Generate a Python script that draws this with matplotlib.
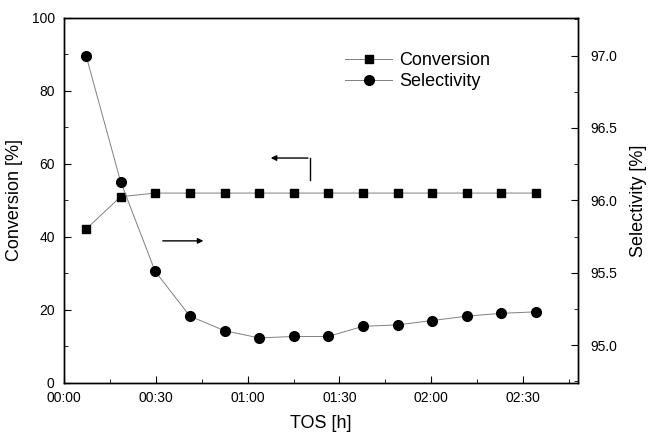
import matplotlib.pyplot as plt
from matplotlib.ticker import MultipleLocator, FuncFormatter

plt.rcParams['font.family'] = ['Liberation Sans', 'DejaVu Sans']

# time on stream in minutes
tos_min = [7.1, 18.4, 29.7, 41.1, 52.4, 63.7, 75.0, 86.3, 97.7, 109.0, 120.3, 131.6, 143.0, 154.3]
conversion = [42.1, 51.0, 52.0, 52.0, 52.0, 52.0, 52.0, 52.0, 52.0, 52.0, 52.0, 52.0, 52.0, 52.0]
selectivity = [97.00, 96.13, 95.51, 95.20, 95.10, 95.05, 95.06, 95.06, 95.13, 95.14, 95.17, 95.20, 95.22, 95.23]


def hhmm(x, pos):
    x = int(round(x))
    return f"{x // 60:02d}:{x % 60:02d}"


fig = plt.figure(figsize=(6.5, 4.37), dpi=100)
ax1 = fig.add_axes([0.099, 0.124, 0.79, 0.835])
ax2 = ax1.twinx()

l1, = ax1.plot(tos_min, conversion, color='#808080', lw=0.7, marker='s',
               ms=6, mfc='black', mec='black', label='Conversion')
l2, = ax2.plot(tos_min, selectivity, color='#808080', lw=0.7, marker='o',
               ms=7, mfc='black', mec='black', label='Selectivity')

ax1.set_xlim(0, 168)
ax1.set_ylim(0, 100)
ax2.set_ylim(94.74, 97.26)

ax1.xaxis.set_major_locator(MultipleLocator(30))
ax1.xaxis.set_minor_locator(MultipleLocator(15))
ax1.xaxis.set_major_formatter(FuncFormatter(hhmm))
ax1.yaxis.set_major_locator(MultipleLocator(20))
ax1.yaxis.set_minor_locator(MultipleLocator(10))
ax2.yaxis.set_major_locator(MultipleLocator(0.5))
ax2.yaxis.set_minor_locator(MultipleLocator(0.25))
ax2.yaxis.set_major_formatter(FuncFormatter(lambda v, p: f"{v:.1f}"))

ax1.tick_params(axis='both', which='major', direction='in', length=5, labelsize=10)
ax1.tick_params(axis='both', which='minor', direction='in', length=3)
ax2.tick_params(axis='y', which='major', direction='in', length=5, labelsize=10, pad=9)
ax2.tick_params(axis='y', which='minor', direction='in', length=3)
ax1.tick_params(axis='x', pad=6)
ax1.tick_params(axis='y', pad=7)

ax1.set_xlabel('TOS [h]', fontsize=13, labelpad=7)
ax1.set_ylabel('Conversion [%]', fontsize=13, labelpad=6)
ax2.set_ylabel('Selectivity [%]', fontsize=13, labelpad=9)

for ax in (ax1, ax2):
    for s in ax.spines.values():
        s.set_linewidth(1.0)

# arrows pointing to the matching axis
ax1.plot([80.4, 80.4], [55.6, 61.6], color='black', lw=1.0)
ax1.annotate('', xy=(66.6, 61.6), xytext=(80.6, 61.6),
             arrowprops=dict(arrowstyle='-|>', color='black', lw=1.0,
                             mutation_scale=8))
ax1.annotate('', xy=(46.4, 38.9), xytext=(31.3, 38.9),
             arrowprops=dict(arrowstyle='-|>', color='black', lw=1.0,
                             mutation_scale=8))

ax2.legend([l1, l2], ['Conversion', 'Selectivity'], loc='upper left',
           bbox_to_anchor=(0.515, 0.95), frameon=False, fontsize=13,
           handlelength=2.6, handletextpad=0.4, labelspacing=0.2)

fig.savefig('out.png', dpi=100)
